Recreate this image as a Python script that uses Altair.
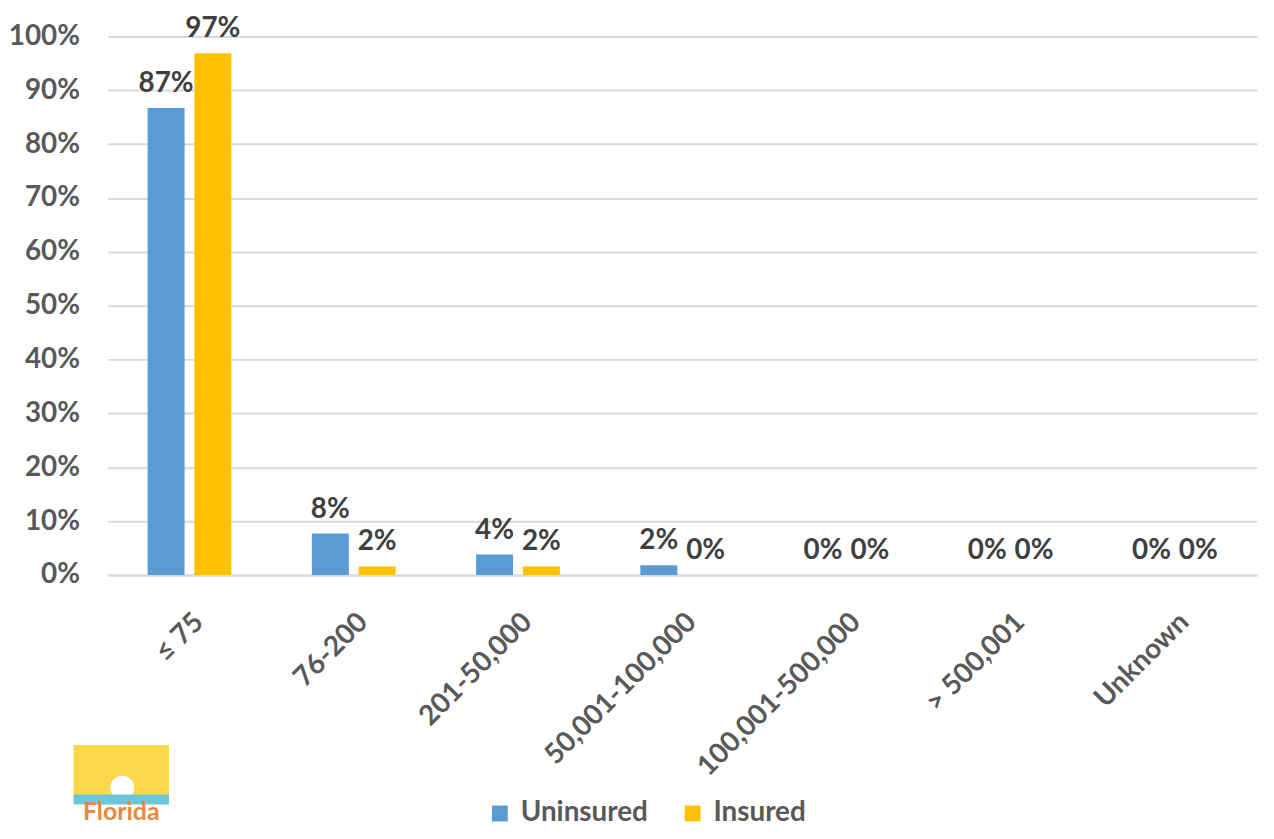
import altair as alt
import pandas as pd

categories = ["≤ 75", "76-200", "201-50,000", "50,001-100,000",
              "100,001-500,000", "> 500,001", "Unknown"]
uninsured = [0.867, 0.077, 0.038, 0.018, 0.0, 0.0, 0.0]
insured = [0.969, 0.016, 0.016, 0.0, 0.0, 0.0, 0.0]
series = ["Uninsured", "Insured"]
colors = ["#5B9BD5", "#FFC000"]

rows = []
for c, u, i in zip(categories, uninsured, insured):
    rows.append({"category": c, "series": "Uninsured", "value": u})
    rows.append({"category": c, "series": "Insured", "value": i})
df = pd.DataFrame(rows)

FONT = "Lato"
W, H = 1157, 542

x_enc = alt.X("category:N", sort=categories, title=None,
              scale=alt.Scale(paddingInner=0.49, paddingOuter=0.245),
              axis=alt.Axis(labelAngle=-45, labelFontSize=28, labelFont=FONT,
                            labelFontWeight="bold", labelColor="#595959",
                            labelLimit=0, labelOverlap=False,
                            ticks=False, domain=True, domainColor="#D9D9D9",
                            domainWidth=2, labelPadding=33))
xoff = alt.XOffset("series:N", sort=series,
                   scale=alt.Scale(paddingInner=0.21, paddingOuter=0))
y_enc = alt.Y("value:Q", title=None,
              scale=alt.Scale(domain=[0, 1], nice=False),
              axis=alt.Axis(format=".0%", values=[i / 10 for i in range(11)],
                            labelFontSize=28, labelFont=FONT,
                            labelFontWeight="bold", labelColor="#595959",
                            ticks=False, domain=False, grid=True,
                            gridColor="#D9D9D9", gridWidth=2, labelPadding=28))

bars = alt.Chart(df).mark_bar().encode(
    x=x_enc, xOffset=xoff, y=y_enc,
    color=alt.Color("series:N", sort=series,
                    scale=alt.Scale(domain=series, range=colors),
                    legend=alt.Legend(title=None, orient="none", direction="horizontal",
                                      legendX=381, legendY=768, padding=0,
                                      symbolType="square", symbolSize=256,
                                      symbolStrokeWidth=0, labelFontSize=28,
                                      labelFont=FONT, labelFontWeight="bold",
                                      labelColor="#595959", labelOffset=7,
                                      columnPadding=30)),
)

labels = alt.Chart(df).mark_text(
    baseline="bottom", dy=-10, fontSize=28, font=FONT, fontWeight="bold",
    color="#404040"
).encode(
    x=alt.X("category:N", sort=categories), xOffset=xoff, y="value:Q",
    text=alt.Text("value:Q", format=".0%"),
)

# Decorative Florida logo (bottom-left)
logo_df = pd.DataFrame([{"k": 1}])
logo_sq = alt.Chart(logo_df).mark_rect(color="#FBD84A").encode(
    x=alt.value(-34), x2=alt.value(62), y=alt.value(713), y2=alt.value(764))
logo_sun = alt.Chart(logo_df).mark_point(filled=True, color="white", opacity=1,
                                         size=576, shape="circle").encode(
    x=alt.value(15), y=alt.value(756))
logo_band = alt.Chart(logo_df).mark_rect(color="#6CC6DA").encode(
    x=alt.value(-34), x2=alt.value(62), y=alt.value(763), y2=alt.value(773))
logo_txt = alt.Chart(logo_df).mark_text(
    text="Florida", fontSize=25, font=FONT, fontWeight="bold", color="#E8893A",
    align="center", baseline="top").encode(x=alt.value(14), y=alt.value(769))

chart = alt.layer(bars, labels, logo_sq, logo_sun, logo_band, logo_txt).properties(
    width=W, height=H,
    autosize=alt.AutoSizeParams(type="none"),
    padding={"left": 100, "top": 26, "right": 9, "bottom": 255},
).configure_view(stroke=None)

chart.save("out.html", embed_options={"renderer": "svg", "actions": False})
